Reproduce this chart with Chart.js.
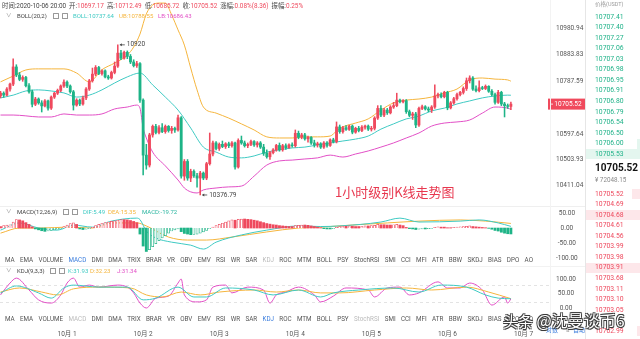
<!DOCTYPE html>
<html lang="zh">
<head>
<meta charset="UTF-8">
<script src="https://cdn.jsdelivr.net/npm/chart.js@4.4.0/dist/chart.umd.min.js"></script>
<title>BTC 1h</title>
<style>
  body { margin: 0; background: #fff; font-family: Roboto, "Noto Sans CJK SC", sans-serif; }
  #wrap { position: relative; width: 640px; height: 339px; overflow: hidden; background: #fff; }
  canvas { position: absolute; left: 0; }
  .t { position: absolute; white-space: nowrap; line-height: 1; }
  .row { position: absolute; display: flex; white-space: nowrap; line-height: 1; }
  .ico { position: absolute; width: 4px; height: 4px; border: 0.8px solid #999; border-radius: 0.5px; }
  .tabs { position: absolute; left: 5px; width: 528px; display: flex; justify-content: space-between; font-size: 6.3px; color: #555; line-height: 1; }
  .hl { position: absolute; background: #eee; }
</style>
</head>
<body>
<div id="wrap">
  <canvas id="mainChart" width="585" height="205" style="top:0"></canvas>
  <canvas id="macdChart" width="585" height="58" style="top:207px"></canvas>
  <canvas id="kdjChart" width="585" height="65" style="top:274px"></canvas>
</div>
<script>
// ---- candle data, 1h, 2020-09-30 03:00 .. 2020-10-06 20:00 ----
const candleOpen = [10735,10745,10738,10760,10778,10840,10811,10795,10802,10772,10750,10705,10724,10710,10699,10717,10691,10731,10745,10755,10771,10785,10771,10750,10702,10720,10706,10728,10760,10790,10814,10838,10816,10826,10804,10800,10820,10843,10890,10872,10893,10878,10858,10845,10852,10720,10521,10485,10594,10625,10603,10620,10606,10625,10610,10618,10612,10656,10445,10498,10438,10462,10446,10438,10456,10438,10490,10525,10565,10545,10560,10552,10562,10555,10565,10478,10574,10565,10555,10560,10570,10558,10565,10550,10528,10515,10530,10540,10556,10540,10555,10548,10558,10555,10600,10586,10594,10580,10585,10565,10558,10562,10550,10565,10556,10576,10570,10623,10606,10620,10614,10626,10604,10618,10610,10622,10626,10615,10618,10655,10690,10666,10684,10674,10695,10700,10720,10714,10718,10678,10665,10670,10630,10690,10696,10688,10684,10695,10735,10740,10732,10748,10692,10710,10725,10740,10748,10762,10790,10800,10760,10754,10765,10762,10770,10752,10740,10712,10748,10706,10700,10697.17];
const candleHigh = [10752,10750,10765,10782,10869,10848,10820,10808,10806,10780,10756,10730,10728,10718,10722,10720,10735,10748,10760,10775,10793,10790,10775,10755,10725,10724,10735,10765,10795,10836,10845,10842,10830,10830,10810,10825,10858,10920,10900,10897,10898,10885,10866,10860,10856,10725,10560,10600,10630,10632,10628,10635,10630,10628,10625,10622,10666,10660,10505,10505,10470,10468,10455,10462,10460,10495,10601,10572,10570,10565,10572,10566,10568,10570,10568,10580,10590,10572,10565,10575,10574,10570,10570,10560,10540,10535,10545,10560,10565,10560,10562,10562,10565,10612,10608,10600,10600,10590,10588,10575,10568,10566,10570,10570,10580,10582,10641,10630,10625,10628,10630,10630,10622,10625,10628,10630,10630,10625,10660,10700,10700,10690,10690,10700,10712,10745,10724,10722,10722,10684,10676,10676,10695,10702,10700,10695,10700,10775,10745,10746,10752,10752,10715,10730,10745,10752,10768,10800,10808,10805,10772,10790,10770,10775,10772,10758,10745,10755,10752,10712,10706,10712.49];
const candleLow = [10728,10730,10735,10752,10772,10805,10790,10788,10768,10745,10695,10700,10705,10677,10695,10684,10686,10726,10740,10750,10766,10765,10745,10684,10698,10700,10702,10722,10755,10785,10808,10812,10810,10800,10795,10796,10815,10838,10866,10868,10870,10852,10840,10838,10712,10449,10470,10478,10586,10598,10598,10602,10600,10604,10600,10603,10608,10438,10430,10430,10425,10440,10405,10376.79,10432,10432,10485,10518,10540,10538,10548,10545,10548,10550,10470,10474,10560,10550,10548,10555,10552,10550,10545,10520,10510,10505,10525,10535,10535,10535,10542,10545,10550,10550,10580,10580,10575,10568,10560,10550,10550,10545,10545,10550,10552,10565,10565,10600,10600,10610,10610,10598,10600,10605,10606,10615,10610,10608,10612,10650,10660,10660,10668,10670,10690,10696,10710,10710,10672,10660,10650,10620,10625,10685,10684,10678,10675,10690,10728,10728,10728,10685,10688,10705,10720,10735,10742,10755,10782,10755,10750,10750,10758,10758,10748,10735,10705,10708,10700,10659,10690,10685.72];
const candleClose = [10745,10738,10760,10778,10840,10811,10795,10802,10772,10750,10705,10724,10710,10699,10717,10691,10731,10745,10755,10771,10785,10771,10750,10702,10720,10706,10728,10760,10790,10814,10838,10816,10826,10804,10800,10820,10843,10890,10872,10893,10878,10858,10845,10852,10720,10521,10485,10594,10625,10603,10620,10606,10625,10610,10618,10612,10656,10445,10498,10438,10462,10446,10438,10456,10438,10490,10525,10565,10545,10560,10552,10562,10555,10565,10478,10574,10565,10555,10560,10570,10558,10565,10550,10528,10515,10530,10540,10556,10540,10555,10548,10558,10555,10600,10586,10594,10580,10585,10565,10558,10562,10550,10565,10556,10576,10570,10623,10606,10620,10614,10626,10604,10618,10610,10622,10626,10615,10618,10655,10690,10666,10684,10674,10695,10700,10720,10714,10718,10678,10665,10670,10630,10690,10696,10688,10684,10695,10735,10740,10732,10748,10692,10710,10725,10740,10748,10762,10790,10800,10760,10754,10765,10762,10770,10752,10740,10712,10748,10706,10700,10697.17,10705.52];

// ---- BOLL(20,2) at these candle indices ----
const upperIdx = [0,4,8,12,16,20,24,28,32,36,40,42,44,46,48,50,52,54,56,58,60,62,64,68,72,76,80,84,88,92,96,100,104,106,108,112,116,120,124,128,132,136,140,144,148,152,156,160,161];
const bollUpper = [10786,10807,10829,10833,10833,10833,10818,10786,10830,10854,10883,10912,10959,11032,11064,11071,11071,11028,10974,10919,10836,10757,10695,10673,10655,10634,10612,10587,10583,10583,10587,10587,10590,10608,10623,10637,10652,10684,10710,10720,10724,10731,10746,10760,10793,10800,10796,10793,10788.55];
const midIdx = [0,4,8,12,16,20,24,28,32,36,40,44,48,52,56,60,64,68,72,76,80,84,88,92,96,100,104,108,112,116,120,124,128,132,136,140,144,148,152,156,160,161];
const bollMid = [10728,10738,10753,10757,10753,10746,10731,10738,10757,10782,10804,10818,10775,10731,10684,10619,10550,10532,10514,10511,10518,10532,10540,10547,10550,10558,10565,10572,10579,10590,10615,10634,10652,10662,10681,10691,10706,10717,10728,10735,10738,10737.64];
const lowerIdx = [0,4,8,12,16,20,24,28,32,36,40,43,44,45,46,48,52,56,58,60,62,64,68,72,76,80,84,88,92,96,100,104,108,112,116,120,124,128,132,136,140,144,148,152,156,160,161];
const bollLower = [10666,10666,10663,10659,10659,10670,10666,10666,10670,10688,10695,10702,10691,10619,10583,10532,10482,10431,10402,10388,10384,10395,10402,10406,10409,10445,10485,10500,10503,10507,10511,10521,10514,10525,10536,10550,10565,10583,10601,10626,10637,10641,10648,10673,10695,10691,10686.43];

// ---- MACD(12,26,9) ----
const macdHist = [5,8,10,11,20,28,27,24,18,12,4,-3,-6,-9,-11,-10,-8,-6,-4,-2,5,10,15,17,12,-3,-5,-4,-2,2,8,12,16,18,20,22,24,26,28,28,27,25,22,18,-20,-60,-78,-72,-62,-52,-42,-33,-25,-17,-10,-6,-3,-12,-18,-20,-22,-21,-20,-17,-13,-8,-2,3,8,12,16,20,24,27,26,29,30,30,29,28,26,24,21,18,15,13,11,10,8,7,6,5,5,8,9,10,10,9,7,5,3,1,-2,-3,-3,-2,2,5,6,6,7,6,5,5,6,7,7,8,9,12,11,11,10,10,11,12,10,8,2,-2,-3,-5,-4,-3,-3,-2,-1,2,4,3,3,1,1,2,3,4,5,6,7,5,4,3,2,1,-1,-4,-8,-10,-14,-17,-19,-19.72];
const difIdx = [0,6,12,18,23,29,35,43,44,46,49,54,60,64,68,76,84,94,101,107,120,126,132,145,151,157,161];
const difVals = [-7,17,0,-7,10,3,23,33,28,-10,-33,-47,-57,-70,-47,-23,-7,7,5,7,20,33,20,23,27,17,5.49];
const deaIdx = [0,6,13,21,29,35,43,46,53,59,65,73,84,94,101,111,122,132,145,153,161];
const deaVals = [-17,0,0,3,0,17,17,7,-30,-40,-40,-30,-13,0,3,10,17,23,27,23,15.35];

// ---- KDJ(9,3,3) ----
const kIdx = [0,5,12,16,20,23,31,40,45,49,56,61,65,71,80,86,94,101,105,113,124,132,139,147,153,157,161];
const kVals = [52,76,52,34,69,79,72,72,28,34,72,38,38,69,62,45,62,38,52,62,69,55,79,72,45,34,31.93];
const dIdx = [0,6,13,18,23,31,41,46,51,57,63,69,80,87,94,101,107,118,128,136,147,154,161];
const dVals = [55,69,55,45,66,72,69,45,38,55,45,55,62,55,62,52,52,62,69,62,72,55,32.23];
const jIdx = [0,3,5,9,12,16,19,21,23,25,28,31,37,40,42,44,46,49,53,56,57,58,62,65,67,71,73,78,83,85,87,90,94,99,101,105,109,116,118,122,126,129,132,138,141,145,148,152,155,159,160,161];
const jVals = [45,86,103,62,28,17,45,86,103,72,79,72,79,72,52,17,0,34,41,86,100,45,21,28,72,79,52,72,62,17,45,55,72,45,21,41,69,62,38,69,72,45,52,90,69,69,86,62,10,38,17,31.34];

// ---- axes ----
const priceTicks = [10980.94, 10883.83, 10787.59, 10597.64, 10503.93, 10411.04];
const macdTicks = [50, 0, -50, -100];
const kdjTicks = [100, 50, 0];
const kdjGuides = [80, 20];
const dayIdx = [21, 45, 69, 93, 117, 141, 165];
const dayLabels = ['10月 1', '10月 2', '10月 3', '10月 4', '10月 5', '10月 6', '10月 7'];

// ---- order book ----
const askPrices = ['10707.41','10707.40','10707.27','10707.06','10707.03','10706.98','10706.95','10706.91','10706.80','10706.79','10706.54','10706.50','10706.00','10705.53'];
const askDepth = [0,0,0,0,0,0,0,0,0,0,0,0,0.05,1];
const bidPrices = ['10705.52','10704.69','10704.68','10704.61','10704.56','10703.99','10703.98','10703.91','10703.68','10703.11','10703.10','10703.05','','10702.99'];
const bidDepth = [0.15,0,1,0,0,0,0,1,0,0,0,0,0,0.05];
const lastPrice = '10705.52';
const lastCny = '¥ 72048.15';

const headerItems = [['时间:', '2020-10-06 20:00'], ['开:', '10697.17'], ['高:', '10712.49'], ['低:', '10685.72'], ['收:', '10705.52'], ['涨幅:', '0.08%(8.36)'], ['振幅:', '0.25%']];
const tabNames = ['MA','EMA','VOLUME','MACD','DMI','DMA','TRIX','BRAR','VR','OBV','EMV','RSI','WR','SAR','KDJ','ROC','MTM','BOLL','PSY','StochRSI','SMI','CCI','MFI','ATR','BBW','SKDJ','BIAS','DPO','AO'];

const RED = '#ef4a5e', GREEN = '#1eb487';
const CYAN = '#3fcac3', ORANGE = '#f5b53d', PINK = '#e24fc6';
const FONT = 'Roboto, "Noto Sans CJK SC", sans-serif';

Chart.defaults.font.family = FONT;
Chart.defaults.animation = false;
Chart.defaults.plugins.legend.display = false;
Chart.defaults.plugins.tooltip.enabled = false;

const X_MIN = -0.16, X_MAX = 173.34;

function xScale(show) {
  const s = {
    type: 'linear', min: X_MIN, max: X_MAX, offset: false, display: show,
    grid: { display: false, offset: false }, border: { display: false },
    afterBuildTicks: sc => { sc.ticks = dayIdx.map(v => ({ value: v })); },
    ticks: { autoSkip: false, maxRotation: 0, padding: 10, color: '#555', font: { size: 6.5 },
      callback: v => dayLabels[dayIdx.indexOf(v)] }
  };
  if (show) s.afterFit = sc => { sc.height = 27; sc.paddingLeft = 0; sc.paddingRight = 0; };
  return s;
}
function yScale(min, max, vals) {
  return {
    position: 'right', min: min, max: max,
    grid: { display: false, drawTicks: false }, border: { display: false },
    afterBuildTicks: s => { s.ticks = vals.map(v => ({ value: v })); },
    // fixed width; no extra top/bottom room for the edge labels
    afterFit: s => { s.width = 35; s.paddingTop = 0; s.paddingBottom = 0; },
    ticks: { padding: 6, crossAlign: 'center', color: '#555', font: { size: 6.5 }, callback: v => v.toFixed(2) }
  };
}
function lineSet(ix, vals, color) {
  return { type: 'line', data: ix.map((x, k) => ({ x: x, y: vals[k] })), borderColor: color, borderWidth: 1,
    pointRadius: 0, cubicInterpolationMode: 'monotone', order: 1 };
}
function baseOpts(xs, ys) {
  return { responsive: false, animation: false, layout: { padding: 0 }, scales: { x: xs, y: ys } };
}

const idx = candleOpen.map((_, i) => i);
const candleColors = idx.map(i => candleClose[i] >= candleOpen[i] ? RED : GREEN);

// current price tag + high / low marks
const mainMarks = {
  id: 'mainMarks',
  afterDatasetsDraw(chart) {
    const { ctx, chartArea, scales: { x, y } } = chart;
    ctx.save();
    ctx.font = '6.5px ' + FONT;
    ctx.textBaseline = 'middle';
    const hi = Math.max(...candleHigh), hiI = candleHigh.indexOf(hi);
    const lo = Math.min(...candleLow), loI = candleLow.indexOf(lo);
    [[hiI, hi], [loI, lo]].forEach(([i, v]) => {
      const px = x.getPixelForValue(i) + 2, py = y.getPixelForValue(v);
      ctx.strokeStyle = '#444'; ctx.fillStyle = '#444'; ctx.lineWidth = 0.8;
      ctx.beginPath(); ctx.moveTo(px, py); ctx.lineTo(px + 5, py); ctx.stroke();
      ctx.beginPath(); ctx.moveTo(px, py); ctx.lineTo(px + 2, py - 1.5); ctx.lineTo(px + 2, py + 1.5); ctx.fill();
      ctx.fillText(String(v), px + 7, py);
    });
    const last = candleClose[candleClose.length - 1];
    const py = y.getPixelForValue(last);
    ctx.fillStyle = '#f04a5d';
    ctx.fillRect(chartArea.right - 2, py - 5.5, 37, 11);
    ctx.strokeStyle = '#fff'; ctx.lineWidth = 0.8;
    ctx.beginPath(); ctx.moveTo(chartArea.right, py); ctx.lineTo(chartArea.right + 3, py); ctx.stroke();
    ctx.fillStyle = '#fff'; ctx.textAlign = 'center';
    ctx.fillText(last.toFixed(2), chartArea.right + 18, py + 0.5);
    ctx.restore();
  }
};

new Chart(document.getElementById('mainChart'), {
  type: 'bar',
  data: { datasets: [
    { data: idx.map(i => ({ x: i, y: [candleLow[i], candleHigh[i]] })), backgroundColor: candleColors, barThickness: 0.9, grouped: false, order: 0 },
    { data: idx.map(i => ({ x: i, y: [candleOpen[i], candleClose[i]] })), backgroundColor: candleColors, barThickness: 2.2, grouped: false, order: 0, minBarLength: 0.8 },
    lineSet(upperIdx, bollUpper, ORANGE),
    lineSet(midIdx, bollMid, CYAN),
    lineSet(lowerIdx, bollLower, PINK)
  ] },
  options: baseOpts(xScale(false), yScale(10340.5, 11082.2, priceTicks)),
  plugins: [mainMarks]
});

const histColor = macdHist.map(v => v >= 0 ? RED : GREEN);
const histHollow = macdHist.map((v, i) => i > 0 && v > macdHist[i - 1]);
new Chart(document.getElementById('macdChart'), {
  type: 'bar',
  data: { datasets: [
    { data: idx.map(i => ({ x: i, y: macdHist[i] })), backgroundColor: idx.map(i => histHollow[i] ? '#fff' : histColor[i]),
      borderColor: histColor, borderWidth: histHollow.map(h => h ? 0.7 : 0), barThickness: 2.2, grouped: false, order: 0 },
    lineSet(difIdx, difVals, CYAN),
    lineSet(deaIdx, deaVals, ORANGE)
  ] },
  options: baseOpts(xScale(false), yScale(-123, 70, macdTicks))
});

const kdjGuideLines = {
  id: 'kdjGuideLines',
  beforeDatasetsDraw(chart) {
    const { ctx, chartArea, scales: { y } } = chart;
    ctx.save();
    ctx.strokeStyle = '#d8d8d8'; ctx.lineWidth = 0.7; ctx.setLineDash([3, 3]);
    kdjGuides.forEach(v => {
      const py = Math.round(y.getPixelForValue(v)) + 0.5;
      ctx.beginPath(); ctx.moveTo(chartArea.left, py); ctx.lineTo(chartArea.right, py); ctx.stroke();
    });
    ctx.restore();
  }
};
new Chart(document.getElementById('kdjChart'), {
  type: 'line',
  data: { datasets: [lineSet(kIdx, kVals, CYAN), lineSet(dIdx, dVals, ORANGE), lineSet(jIdx, jVals, PINK)] },
  options: baseOpts(xScale(true), yScale(-13.8, 117.2, kdjTicks)),
  plugins: [kdjGuideLines]
});

// ---- text overlays ----
const wrap = document.getElementById('wrap');
function text(x, y, s, color, size, extra) {
  const d = document.createElement('div');
  d.className = 't';
  d.textContent = s;
  d.style.left = x + 'px';
  d.style.top = (y - size / 2) + 'px';
  d.style.fontSize = size + 'px';
  d.style.color = color;
  if (extra) Object.assign(d.style, extra);
  wrap.appendChild(d);
  return d;
}
function box(x, y, cls, css) {
  const d = document.createElement('div');
  d.className = cls;
  Object.assign(d.style, { left: x + 'px', top: y + 'px' }, css || {});
  wrap.appendChild(d);
  return d;
}

// separators
box(0, 206, 'hl', { width: '585px', height: '1px', background: '#efefef' });
box(0, 266, 'hl', { width: '585px', height: '1px', background: '#f2f2f2' });
box(550, 0, 'hl', { width: '1px', height: '339px', background: '#f3f3f3' });
box(585, 0, 'hl', { width: '1px', height: '339px', background: '#e6e6e6' });

// header line
const head = document.createElement('div');
head.className = 'row';
Object.assign(head.style, { left: '2px', top: '3px', fontSize: '6.4px', gap: '3px' });
headerItems.forEach(([k, v], n) => {
  const s = document.createElement('span');
  s.innerHTML = '<span style="color:#444">' + k + '</span><span style="color:' + (n === 0 ? '#444' : RED) + '">' + v + '</span>';
  head.appendChild(s);
});
wrap.appendChild(head);

function indicatorRow(y, name, nameEnd, items) {
  text(6, y, '∨', '#888', 5.5);
  text(17, y, name, '#444', 6);
  box(nameEnd + 4, y - 2.8, 'ico');
  box(nameEnd + 13, y - 2.8, 'ico');
  items.forEach(([x, s, c]) => text(x, y, s, c, 6));
}
indicatorRow(16, 'BOLL(20,2)', 49, [
  [73, 'BOLL:' + bollMid[bollMid.length - 1].toFixed(2), CYAN],
  [119, 'UB:' + bollUpper[bollUpper.length - 1].toFixed(2), ORANGE],
  [158, 'LB:' + bollLower[bollLower.length - 1].toFixed(2), PINK]]);
indicatorRow(212, 'MACD(12,26,9)', 59, [
  [83, 'DIF:' + difVals[difVals.length - 1].toFixed(2), CYAN],
  [108, 'DEA:' + deaVals[deaVals.length - 1].toFixed(2), ORANGE],
  [142, 'MACD:' + macdHist[macdHist.length - 1].toFixed(2), '#2bb5a0']]);
indicatorRow(271, 'KDJ(9,3,3)', 46, [
  [68, 'K:' + kVals[kVals.length - 1].toFixed(2), CYAN],
  [90, 'D:' + dVals[dVals.length - 1].toFixed(2), ORANGE],
  [117, 'J:' + jVals[jVals.length - 1].toFixed(2), PINK]]);

// indicator tabs
function tabRow(top, active, dim) {
  const r = document.createElement('div');
  r.className = 'tabs';
  r.style.top = top + 'px';
  tabNames.forEach(n => {
    const s = document.createElement('span');
    s.textContent = n;
    if (n === active) s.style.color = '#3b7ddd';
    if (dim.includes(n)) s.style.color = '#bbb';
    r.appendChild(s);
  });
  wrap.appendChild(r);
}
tabRow(257, 'MACD', ['KDJ']);
tabRow(316, 'KDJ', ['MACD', 'StochRSI']);

// chart caption
text(335, 191, '1小时级别K线走势图', '#e8384f', 13, { fontFamily: '"Noto Sans CJK SC", sans-serif' });

// bottom-right switches
text(546, 330, '对数', '#3b7ddd', 6);
text(565, 330, '%', '#888', 6);
text(573, 330, '自动', '#3b7ddd', 6);

// order book
text(595, 5, '价格(USDT)', '#9a9a9a', 5.5);
askPrices.forEach((p, k) => {
  const y = 17 + k * 10.55;
  if (askDepth[k] > 0) box(640 - 54 * askDepth[k], y - 5, 'hl', { width: (54 * askDepth[k]) + 'px', height: '10px', background: '#e4f6ef' });
  text(595, y, p, '#22b38a', 6.8);
});
text(595, 168, lastPrice, '#111', 10, { fontWeight: 'bold' });
text(595, 180, lastCny, '#8a8a8a', 6.3);
bidPrices.forEach((p, k) => {
  const y = 194 + k * 10.55;
  if (bidDepth[k] > 0) box(640 - 54 * bidDepth[k], y - 5, 'hl', { width: (54 * bidDepth[k]) + 'px', height: '10px', background: '#fde7ea' });
  if (p) text(595, y, p, '#ee4a5e', 6.8);
});

// watermark
const wm = text(503, 320, '', '#fff', 16, {
  fontFamily: '"Noto Sans CJK SC", sans-serif',
  textShadow: '-0.8px -0.8px 0 #3a3a3a, 0.8px -0.8px 0 #3a3a3a, -0.8px 0.8px 0 #3a3a3a, 0.8px 0.8px 0 #3a3a3a, 0 0 1.5px #222'
});
wm.innerHTML = '<span style="font-size:15px;letter-spacing:0">头条</span> @沈曼谈币6';
</script>
</body>
</html>
